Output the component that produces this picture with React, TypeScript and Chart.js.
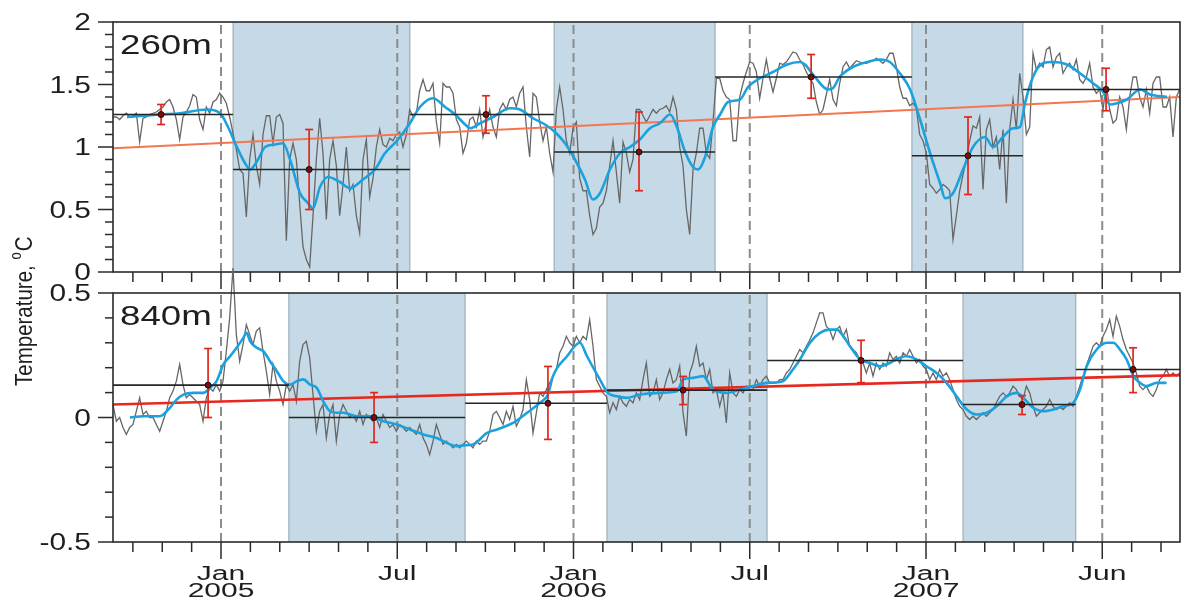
import React, { useEffect, useRef } from "react";
import { Chart, registerables } from "chart.js";

Chart.register(...registerables);

// x axis: months since January 2005
const X_MIN = -3.677;
const X_MAX = 32.647;
// daily record resampled every ~3.45 days (0.11348 month)
const GRAY_START = -3.677;
const GRAY_STEP = 0.11348;

const MAJOR_MONTHS = [0, 6, 12, 18, 24, 30];
const MAJOR_LABELS = [["Jan", "2005"], ["Jul"], ["Jan", "2006"], ["Jul"], ["Jan", "2007"], ["Jun"]];
const MONTH_TICKS = [-3, -2, -1, 0, 1, 2, 3, 4, 5, 6, 7, 8, 9, 10, 11, 12, 13, 14, 15, 16, 17, 18, 19, 20, 21, 22, 23, 24, 25, 26, 27, 28, 29, 30, 31, 32];

// ---------- 260 m ----------
const TOP_Y_VALUES = [0, 0.5, 1, 1.5, 2];
const TOP_Y_LABELS = ["0", "0.5", "1", "1.5", "2"];

const TOP_GRAY = [
  1.24, 1.24, 1.22, 1.25, 1.27, 1.24, 1.25, 1.27, 1.04, 1.23,
  1.24, 1.26, 1.27, 1.28, 1.30, 1.32, 1.36, 1.38, 1.32, 1.22,
  1.06, 1.24, 1.28, 1.33, 1.42, 1.40, 1.22, 1.14, 1.32, 1.27,
  1.36, 1.38, 1.43, 1.40, 1.35, 1.24, 1.11, 0.98, 0.82, 0.79,
  0.44, 0.90, 1.10, 0.85, 0.70, 1.10, 1.25, 1.25, 1.03, 1.24,
  1.26, 1.19, 0.25, 0.90, 1.03, 0.90, 0.55, 0.20, 0.10, 0.04,
  0.45, 0.90, 1.23, 0.95, 0.42, 0.90, 1.05, 0.85, 0.45, 0.70,
  1.00, 0.65, 0.70, 0.45, 0.31, 0.90, 1.06, 0.60, 0.75, 1.00,
  1.14, 1.02, 1.00, 1.07, 1.05, 1.10, 1.12, 1.00, 1.10, 1.30,
  1.24, 1.27, 1.45, 1.54, 1.45, 1.45, 1.51, 1.20, 1.03, 1.51,
  1.48, 1.48, 1.43, 1.22, 1.16, 0.95, 1.03, 1.22, 1.24, 1.16,
  1.30, 1.08, 1.19, 1.30, 1.16, 1.08, 1.30, 1.35, 1.30, 1.38,
  1.40, 1.32, 1.43, 1.48, 1.16, 0.92, 1.43, 1.40, 1.20, 1.05,
  1.16, 0.95, 0.80, 1.30, 1.48, 1.30, 1.05, 0.95, 1.15, 1.20,
  0.75, 0.65, 0.65, 0.45, 0.30, 0.35, 0.52, 0.55, 0.65, 0.85,
  1.05, 0.80, 0.55, 1.04, 0.95, 0.80, 0.90, 1.30, 1.30, 1.25,
  1.20, 1.25, 1.30, 1.27, 1.30, 1.31, 1.33, 1.28, 1.40, 1.30,
  1.00, 0.85, 0.50, 0.30, 0.82, 0.95, 1.15, 1.15, 0.95, 0.91,
  1.20, 1.55, 1.55, 1.45, 1.40, 1.38, 1.05, 1.05, 1.40, 1.51,
  1.60, 1.68, 1.67, 1.60, 1.39, 1.55, 1.70, 1.55, 1.44, 1.55,
  1.67, 1.66, 1.68, 1.72, 1.76, 1.75, 1.70, 1.66, 1.60, 1.55,
  1.51, 1.36, 1.26, 1.30, 1.42, 1.54, 1.38, 1.33, 1.51, 1.64,
  1.68, 1.63, 1.66, 1.69, 1.68, 1.67, 1.67, 1.68, 1.69, 1.71,
  1.69, 1.67, 1.70, 1.75, 1.75, 1.64, 1.48, 1.39, 1.39, 1.33,
  1.35, 1.31, 1.10, 1.05, 0.95, 0.70, 0.67, 0.63, 0.66, 0.70,
  0.68, 0.65, 0.26, 0.45, 0.65, 0.78, 0.90, 1.05, 1.17, 1.15,
  1.24, 0.66, 1.14, 1.22, 1.00, 1.08, 0.82, 1.14, 0.55, 1.14,
  1.38, 1.14, 1.59, 1.40, 1.10, 1.16, 1.75, 1.62, 1.67, 1.64,
  1.78, 1.80, 1.64, 1.72, 1.75, 1.59, 1.64, 1.67, 1.62, 1.70,
  1.54, 1.51, 1.56, 1.67, 1.48, 1.43, 1.46, 1.30, 1.50, 1.30,
  1.19, 1.22, 1.40, 1.32, 1.14, 1.40, 1.56, 1.56, 1.40, 1.32,
  1.46, 1.27, 1.51, 1.56, 1.56, 1.32, 1.32, 1.40, 1.08, 1.40, 1.46,
];

const TOP_BLUE_X = [
  -3.20, -2.08, -1.40, -0.48, -0.03, 0.24, 0.54, 0.82, 0.99, 1.26,
  1.50, 1.84, 2.11, 2.35, 2.69, 2.93, 3.13, 3.37, 3.64, 4.05,
  4.39, 4.83, 5.24, 5.58, 5.99, 6.43, 6.77, 7.22, 7.63, 7.97,
  8.31, 8.48, 8.82, 9.26, 9.84, 10.18, 10.62, 11.03, 11.37, 11.71,
  12.05, 12.39, 12.66, 12.90, 13.24, 13.58, 13.92, 14.26, 14.60, 14.94,
  15.29, 15.52, 15.80, 16.07, 16.24, 16.48, 16.75, 16.99, 17.26, 17.67,
  17.94, 18.35, 18.79, 19.27, 19.71, 19.88, 20.22, 20.66, 20.83, 21.06,
  21.51, 21.99, 22.43, 22.77, 23.11, 23.46, 23.80, 24.14, 24.48, 24.65,
  24.92, 25.26, 25.60, 26.01, 26.28, 26.62, 26.96, 27.20, 27.37, 27.64,
  27.98, 28.32, 28.80, 29.24, 29.69, 30.03, 30.26, 30.50, 30.84, 31.29,
  31.63, 32.20,
];
const TOP_BLUE_Y = [
  1.24, 1.26, 1.27, 1.30, 1.27, 1.16, 1.00, 0.87, 0.82, 0.90,
  1.00, 1.02, 1.03, 0.90, 0.63, 0.56, 0.51, 0.68, 0.76, 0.72,
  0.67, 0.74, 0.82, 0.95, 1.05, 1.19, 1.32, 1.39, 1.32, 1.26,
  1.18, 1.15, 1.19, 1.24, 1.31, 1.30, 1.23, 1.18, 1.12, 1.03,
  0.90, 0.74, 0.58, 0.63, 0.82, 0.95, 1.00, 1.06, 1.15, 1.19,
  1.26, 1.16, 0.96, 0.84, 0.82, 0.92, 1.16, 1.26, 1.36, 1.38,
  1.48, 1.55, 1.60, 1.66, 1.68, 1.66, 1.56, 1.46, 1.47, 1.56,
  1.64, 1.68, 1.70, 1.68, 1.59, 1.46, 1.22, 0.95, 0.71, 0.59,
  0.63, 0.82, 1.00, 1.08, 1.00, 1.08, 1.15, 1.16, 1.35, 1.56,
  1.67, 1.68, 1.66, 1.59, 1.51, 1.44, 1.34, 1.35, 1.38, 1.46,
  1.42, 1.40,
];

const TOP_SEG_START = [-3.677, 0.41, 6.43, 11.34, 16.82, 23.52, 27.30];
const TOP_SEG_END = [0.41, 6.43, 11.34, 16.82, 23.52, 27.30, 32.647];
const TOP_SEG_MEAN = [1.26, 0.82, 1.26, 0.96, 1.56, 0.93, 1.46];
const TOP_SHADE_START = [0.41, 11.34, 23.52];
const TOP_SHADE_END = [6.43, 16.82, 27.30];
const TOP_ERR_X = [-2.04, 3.0, 9.02, 14.23, 20.09, 25.43, 30.13];
const TOP_ERR_LOW = [1.18, 0.50, 1.11, 0.65, 1.39, 0.62, 1.29];
const TOP_ERR_HIGH = [1.34, 1.14, 1.41, 1.28, 1.74, 1.24, 1.63];
const TOP_TREND = [0.99, 1.40];

// ---------- 840 m ----------
const BOT_Y_VALUES = [-0.5, 0, 0.5];
const BOT_Y_LABELS = ["-0.5", "0", "0.5"];

const BOT_GRAY = [
  0.052, -0.015, 0.0, -0.04, -0.068, -0.04, -0.028, 0.025, 0.079, 0.012,
  0.025, 0.0, 0.0, -0.028, -0.055, -0.015, 0.025, 0.079, 0.106, 0.146,
  0.213, 0.132, 0.079, 0.092, 0.079, 0.065, 0.052, -0.015, 0.079, 0.119,
  0.106, 0.132, 0.106, 0.146, 0.266, 0.40, 0.60, 0.333, 0.226, 0.293,
  0.373, 0.333, 0.293, 0.347, 0.36, 0.266, 0.186, 0.092, 0.213, 0.146,
  0.106, 0.052, 0.132, 0.106, 0.132, 0.065, 0.226, 0.293, 0.306, 0.24,
  0.092, -0.055, 0.025, 0.052, -0.082, 0.012, 0.052, -0.095, 0.012, 0.052,
  0.025, 0.0, 0.012, -0.015, 0.025, -0.028, 0.012, 0.0, -0.015, 0.0,
  -0.04, 0.012, -0.015, -0.04, -0.028, -0.055, -0.028, -0.04, -0.055, -0.04,
  -0.055, -0.068, -0.028, -0.082, -0.108, -0.149, -0.095, -0.028, -0.068, -0.108,
  -0.095, -0.108, -0.122, -0.108, -0.122, -0.108, -0.095, -0.108, -0.122, -0.095,
  -0.108, -0.095, -0.095, -0.055, 0.012, 0.025, 0.0, -0.028, 0.025, -0.008,
  0.045, -0.035, -0.008, 0.032, 0.152, 0.072, -0.062, 0.019, 0.099, 0.085,
  0.112, 0.139, 0.166, 0.193, 0.26, 0.286, 0.326, 0.30, 0.286, 0.326,
  0.30, 0.326, 0.313, 0.393, 0.286, 0.152, 0.126, 0.099, 0.085, 0.019,
  0.059, 0.032, 0.085, 0.059, 0.045, 0.072, 0.059, 0.099, 0.072, 0.152,
  0.219, 0.085, 0.099, 0.152, 0.072, 0.099, 0.152, 0.193, 0.139, 0.152,
  0.206, 0.019, -0.075, 0.179, 0.219, 0.286, 0.206, 0.219, 0.152, 0.193,
  0.099, 0.112, 0.045, 0.099, -0.022, 0.179, 0.099, 0.085, 0.112, 0.099,
  0.126, 0.112, 0.112, 0.152, 0.126, 0.152, 0.166, 0.139, 0.139, 0.139,
  0.152, 0.152, 0.179, 0.193, 0.219, 0.246, 0.273, 0.26, 0.286, 0.31,
  0.34, 0.38, 0.42, 0.42, 0.366, 0.353, 0.313, 0.353, 0.366, 0.326,
  0.353, 0.286, 0.273, 0.26, 0.233, 0.219, 0.179, 0.219, 0.166, 0.219,
  0.193, 0.219, 0.206, 0.26, 0.233, 0.246, 0.219, 0.26, 0.246, 0.273,
  0.246, 0.219, 0.233, 0.206, 0.193, 0.152, 0.179, 0.152, 0.193, 0.166,
  0.179, 0.152, 0.112, 0.072, 0.045, 0.032, 0.005, -0.008, 0.005, -0.008,
  0.005, 0.019, 0.005, 0.019, 0.032, 0.059, 0.085, 0.099, 0.085, 0.099,
  0.126, 0.112, 0.085, 0.072, 0.126, 0.099, 0.045, 0.005, 0.019, 0.032,
  0.045, 0.072, 0.045, 0.032, 0.045, 0.032, 0.045, 0.059, 0.045, 0.085,
  0.126, 0.166, 0.206, 0.246, 0.286, 0.30, 0.286, 0.326, 0.353, 0.393,
  0.326, 0.407, 0.366, 0.313, 0.273, 0.246, 0.219, 0.179, 0.126, 0.112,
  0.126, 0.099, 0.085, 0.112, 0.152, 0.166, 0.193, 0.166, 0.179, 0.166, 0.179,
];

const BOT_BLUE_X = [
  -3.10, -2.65, -2.08, -1.74, -1.51, -1.28, -0.94, -0.60, -0.37, -0.15,
  0.08, 0.31, 0.53, 0.76, 0.87, 0.99, 1.22, 1.44, 1.67, 1.90,
  2.12, 2.35, 2.58, 2.80, 3.03, 3.26, 3.48, 3.71, 3.94, 4.16,
  4.62, 5.07, 5.53, 5.98, 6.43, 6.89, 7.34, 7.80, 8.02, 8.25,
  8.58, 9.06, 9.40, 9.94, 10.42, 10.86, 11.13, 11.30, 11.78, 12.22,
  12.46, 12.90, 13.17, 13.48, 13.82, 14.26, 14.94, 15.52, 15.73, 16.07,
  16.41, 16.75, 17.23, 17.67, 18.11, 18.59, 19.13, 19.47, 19.71, 20.05,
  20.39, 20.73, 20.96, 21.19, 21.41, 21.76, 22.10, 22.43, 22.77, 23.11,
  23.34, 23.68, 24.02, 24.36, 24.70, 25.04, 25.39, 25.73, 26.07, 26.41,
  26.75, 27.09, 27.31, 27.65, 27.99, 28.33, 28.67, 29.01, 29.24, 29.47,
  29.81, 30.15, 30.38, 30.60, 30.83, 31.06, 31.29, 31.51, 31.85, 32.19,
];
const BOT_BLUE_Y = [
  0.0, 0.005, 0.005, 0.039, 0.072, 0.092, 0.099, 0.099, 0.119, 0.146,
  0.213, 0.246, 0.28, 0.32, 0.34, 0.306, 0.28, 0.266, 0.226, 0.186,
  0.146, 0.132, 0.146, 0.153, 0.132, 0.119, 0.065, 0.025, 0.019, 0.019,
  0.005, 0.005, -0.015, -0.028, -0.048, -0.068, -0.082, -0.108, -0.115, -0.112,
  -0.108, -0.062, -0.048, -0.022, 0.019, 0.059, 0.092, 0.166, 0.246, 0.30,
  0.246, 0.152, 0.099, 0.085, 0.079, 0.092, 0.099, 0.105, 0.152, 0.159,
  0.166, 0.112, 0.099, 0.112, 0.126, 0.139, 0.146, 0.193, 0.233, 0.30,
  0.34, 0.353, 0.353, 0.326, 0.286, 0.233, 0.219, 0.206, 0.219, 0.24,
  0.246, 0.233, 0.206, 0.179, 0.139, 0.085, 0.032, 0.012, 0.019, 0.045,
  0.085, 0.099, 0.079, 0.039, 0.025, 0.032, 0.045, 0.059, 0.112, 0.206,
  0.273, 0.30, 0.30, 0.273, 0.233, 0.166, 0.139, 0.126, 0.139, 0.139,
];

const BOT_SEG_START = [-3.677, 2.31, 8.31, 13.14, 18.59, 25.26, 29.10];
const BOT_SEG_END = [2.31, 8.31, 13.14, 18.59, 25.26, 29.10, 32.647];
const BOT_SEG_MEAN = [0.13, 0.0, 0.057, 0.11, 0.229, 0.052, 0.193];
const BOT_SHADE_START = [2.31, 13.14, 25.26];
const BOT_SHADE_END = [8.31, 18.59, 29.10];
const BOT_ERR_X = [-0.44, 5.21, 11.13, 15.73, 21.79, 27.27, 31.05];
const BOT_ERR_LOW = [0.0, -0.1, -0.088, 0.052, 0.14, 0.012, 0.10];
const BOT_ERR_HIGH = [0.277, 0.1, 0.205, 0.165, 0.31, 0.088, 0.28];
const BOT_TREND = [0.052, 0.17];

const FONT = '"Liberation Sans", Arial, Helvetica, sans-serif';
const TEXT_COLOR = "#1e1e1e";
const AXIS_COLOR = "#2a2a2a";

type PanelDef = {
  name: string;
  yMin: number;
  yMax: number;
  yValues: number[];
  yLabels: string[];
  gray: number[];
  blueX: number[];
  blueY: number[];
  segStart: number[];
  segEnd: number[];
  segMean: number[];
  shadeStart: number[];
  shadeEnd: number[];
  errX: number[];
  errLow: number[];
  errHigh: number[];
  trend: number[];
  trendColor: string;
  trendWidth: number;
  padding: { left: number; right: number; top: number; bottom: number };
  xLabels: boolean;
  yTitle: boolean;
};

function stretchedText(ctx: CanvasRenderingContext2D, text: string, x: number, y: number, size: number, sx: number, align: CanvasTextAlign) {
  ctx.save();
  ctx.translate(x, y);
  ctx.scale(sx, 1);
  ctx.font = `${size}px ${FONT}`;
  ctx.textAlign = align;
  ctx.textBaseline = "alphabetic";
  ctx.fillStyle = TEXT_COLOR;
  ctx.fillText(text, 0, 0);
  ctx.restore();
}

function line(ctx: CanvasRenderingContext2D, x0: number, y0: number, x1: number, y1: number) {
  ctx.beginPath();
  ctx.moveTo(x0, y0);
  ctx.lineTo(x1, y1);
  ctx.stroke();
}

function makePlugin(p: PanelDef) {
  return {
    id: "panelDecor" + p.name,
    beforeDatasetsDraw(chart: any) {
      const { ctx, chartArea: a, scales } = chart;
      const xs = scales.x;
      ctx.save();
      for (let i = 0; i < p.shadeStart.length; i++) {
        const x0 = xs.getPixelForValue(p.shadeStart[i]);
        const x1 = xs.getPixelForValue(p.shadeEnd[i]);
        ctx.fillStyle = "#c5dae6";
        ctx.fillRect(x0, a.top, x1 - x0, a.bottom - a.top);
        ctx.strokeStyle = "#90a4ae";
        ctx.lineWidth = 1;
        line(ctx, x0, a.top, x0, a.bottom);
        line(ctx, x1, a.top, x1, a.bottom);
      }
      ctx.restore();
    },
    afterDatasetsDraw(chart: any) {
      const { ctx, scales } = chart;
      const xs = scales.x;
      const ys = scales.y;
      ctx.save();
      for (let i = 0; i < p.errX.length; i++) {
        const px = xs.getPixelForValue(p.errX[i]);
        const pl = ys.getPixelForValue(p.errLow[i]);
        const ph = ys.getPixelForValue(p.errHigh[i]);
        const pm = ys.getPixelForValue(p.segMean[i]);
        ctx.strokeStyle = "#e3261c";
        ctx.lineWidth = 1.7;
        line(ctx, px, pl, px, ph);
        line(ctx, px - 4, pl, px + 4, pl);
        line(ctx, px - 4, ph, px + 4, ph);
        ctx.beginPath();
        ctx.arc(px, pm, 3, 0, Math.PI * 2);
        ctx.fillStyle = "#7a0d0d";
        ctx.fill();
        ctx.strokeStyle = "#111";
        ctx.lineWidth = 1;
        ctx.stroke();
      }
      ctx.restore();
    },
    afterDraw(chart: any) {
      const { ctx, chartArea: a, scales } = chart;
      const xs = scales.x;
      const ys = scales.y;
      ctx.save();
      ctx.strokeStyle = AXIS_COLOR;
      ctx.lineWidth = 1.6;
      ctx.strokeRect(a.left, a.top, a.right - a.left, a.bottom - a.top);
      ctx.lineWidth = 1.5;
      // y ticks (minor every 0.1, major at labelled values)
      const n = Math.round((p.yMax - p.yMin) / 0.1);
      for (let i = 0; i <= n; i++) {
        const v = p.yMin + i * 0.1;
        const major = p.yValues.some((m) => Math.abs(m - v) < 1e-6);
        const py = ys.getPixelForValue(v);
        line(ctx, a.left - (major ? 15 : 8), py, a.left, py);
      }
      // x ticks (monthly)
      for (const m of MONTH_TICKS) {
        const major = MAJOR_MONTHS.includes(m);
        const px = xs.getPixelForValue(m);
        line(ctx, px, a.bottom, px, a.bottom + (major ? 17 : 10));
      }
      // y labels
      p.yValues.forEach((v, i) => {
        const py = ys.getPixelForValue(v);
        stretchedText(ctx, p.yLabels[i], a.left - 22, py + 8.2, 23, 1.3, "right");
      });
      // x labels
      if (p.xLabels) {
        MAJOR_MONTHS.forEach((m, i) => {
          const px = xs.getPixelForValue(m);
          const lines = MAJOR_LABELS[i];
          stretchedText(ctx, lines[0], px, a.bottom + 38, 20, 1.5, "center");
          if (lines[1]) stretchedText(ctx, lines[1], px, a.bottom + 55, 20, 1.5, "center");
        });
      }
      // panel name
      stretchedText(ctx, p.name, a.left + 7, a.top + 32, 28, 1.31, "left");
      // shared y-axis title
      if (p.yTitle) {
        ctx.save();
        ctx.translate(32, 386);
        ctx.rotate(-Math.PI / 2);
        ctx.scale(1, 1.2);
        ctx.fillStyle = TEXT_COLOR;
        ctx.textBaseline = "alphabetic";
        ctx.textAlign = "left";
        ctx.font = `20.5px ${FONT}`;
        const main = "Temperature, ";
        ctx.fillText(main, 0, 0);
        const w = ctx.measureText(main).width;
        ctx.font = `13px ${FONT}`;
        ctx.fillText("o", w, -9);
        const wo = ctx.measureText("o").width;
        ctx.font = `20.5px ${FONT}`;
        ctx.fillText("C", w + wo + 1, 0);
        ctx.restore();
      }
      ctx.restore();
    },
  };
}

function buildConfig(p: PanelDef): any {
  const gray = p.gray.map((v, i) => ({ x: GRAY_START + i * GRAY_STEP, y: v }));
  const blue = p.blueX.map((x, i) => ({ x, y: p.blueY[i] }));
  const means: any[] = [];
  p.segStart.forEach((s, i) => {
    means.push({ x: s, y: p.segMean[i] }, { x: p.segEnd[i], y: p.segMean[i] }, { x: p.segEnd[i], y: null });
  });
  const dashed: any[] = [];
  MAJOR_MONTHS.forEach((m) => {
    dashed.push({ x: m, y: p.yMin }, { x: m, y: p.yMax }, { x: m, y: null });
  });
  const trend = [
    { x: X_MIN, y: p.trend[0] },
    { x: X_MAX, y: p.trend[1] },
  ];
  return {
    type: "line",
    data: {
      datasets: [
        { label: "month marks", data: dashed, borderColor: "#8c8c8c", borderWidth: 2, borderDash: [9, 5], pointRadius: 0, order: 6, spanGaps: false },
        { label: "daily", data: gray, borderColor: "#666666", borderWidth: 1.3, pointRadius: 0, order: 5, clip: false },
        { label: "trend", data: trend, borderColor: p.trendColor, borderWidth: p.trendWidth, pointRadius: 0, order: 4 },
        { label: "smoothed", data: blue, borderColor: "#1ba2de", borderWidth: 2.6, pointRadius: 0, cubicInterpolationMode: "monotone", order: 3 },
        { label: "seasonal mean", data: means, borderColor: "#262626", borderWidth: 1.6, pointRadius: 0, order: 2, spanGaps: false },
      ],
    },
    options: {
      responsive: false,
      animation: false,
      events: [],
      layout: { padding: p.padding },
      plugins: { legend: { display: false }, tooltip: { enabled: false } },
      scales: {
        x: { type: "linear", min: X_MIN, max: X_MAX, display: false },
        y: { type: "linear", min: p.yMin, max: p.yMax, display: false },
      },
    },
    plugins: [makePlugin(p)],
  };
}

const TOP_PANEL: PanelDef = {
  name: "260m",
  yMin: 0,
  yMax: 2,
  yValues: TOP_Y_VALUES,
  yLabels: TOP_Y_LABELS,
  gray: TOP_GRAY,
  blueX: TOP_BLUE_X,
  blueY: TOP_BLUE_Y,
  segStart: TOP_SEG_START,
  segEnd: TOP_SEG_END,
  segMean: TOP_SEG_MEAN,
  shadeStart: TOP_SHADE_START,
  shadeEnd: TOP_SHADE_END,
  errX: TOP_ERR_X,
  errLow: TOP_ERR_LOW,
  errHigh: TOP_ERR_HIGH,
  trend: TOP_TREND,
  trendColor: "#f2764f",
  trendWidth: 2,
  padding: { left: 113, right: 3, top: 22, bottom: 327 },
  xLabels: false,
  yTitle: false,
};

const BOT_PANEL: PanelDef = {
  name: "840m",
  yMin: -0.5,
  yMax: 0.5,
  yValues: BOT_Y_VALUES,
  yLabels: BOT_Y_LABELS,
  gray: BOT_GRAY,
  blueX: BOT_BLUE_X,
  blueY: BOT_BLUE_Y,
  segStart: BOT_SEG_START,
  segEnd: BOT_SEG_END,
  segMean: BOT_SEG_MEAN,
  shadeStart: BOT_SHADE_START,
  shadeEnd: BOT_SHADE_END,
  errX: BOT_ERR_X,
  errLow: BOT_ERR_LOW,
  errHigh: BOT_ERR_HIGH,
  trend: BOT_TREND,
  trendColor: "#e8281e",
  trendWidth: 2.6,
  padding: { left: 113, right: 3, top: 293, bottom: 57 },
  xLabels: true,
  yTitle: true,
};

function PanelChart({ def }: { def: PanelDef }) {
  const ref = useRef<HTMLCanvasElement>(null);
  useEffect(() => {
    if (!ref.current) return;
    const chart = new Chart(ref.current, buildConfig(def));
    return () => chart.destroy();
  }, [def]);
  return <canvas ref={ref} width={1183} height={599} style={{ position: "absolute", left: 0, top: 0, width: 1183, height: 599 }} />;
}

export default function App() {
  return (
    <div style={{ position: "absolute", left: 0, top: 0, width: 1183, height: 599, background: "#ffffff", overflow: "hidden" }}>
      <PanelChart def={TOP_PANEL} />
      <PanelChart def={BOT_PANEL} />
    </div>
  );
}
